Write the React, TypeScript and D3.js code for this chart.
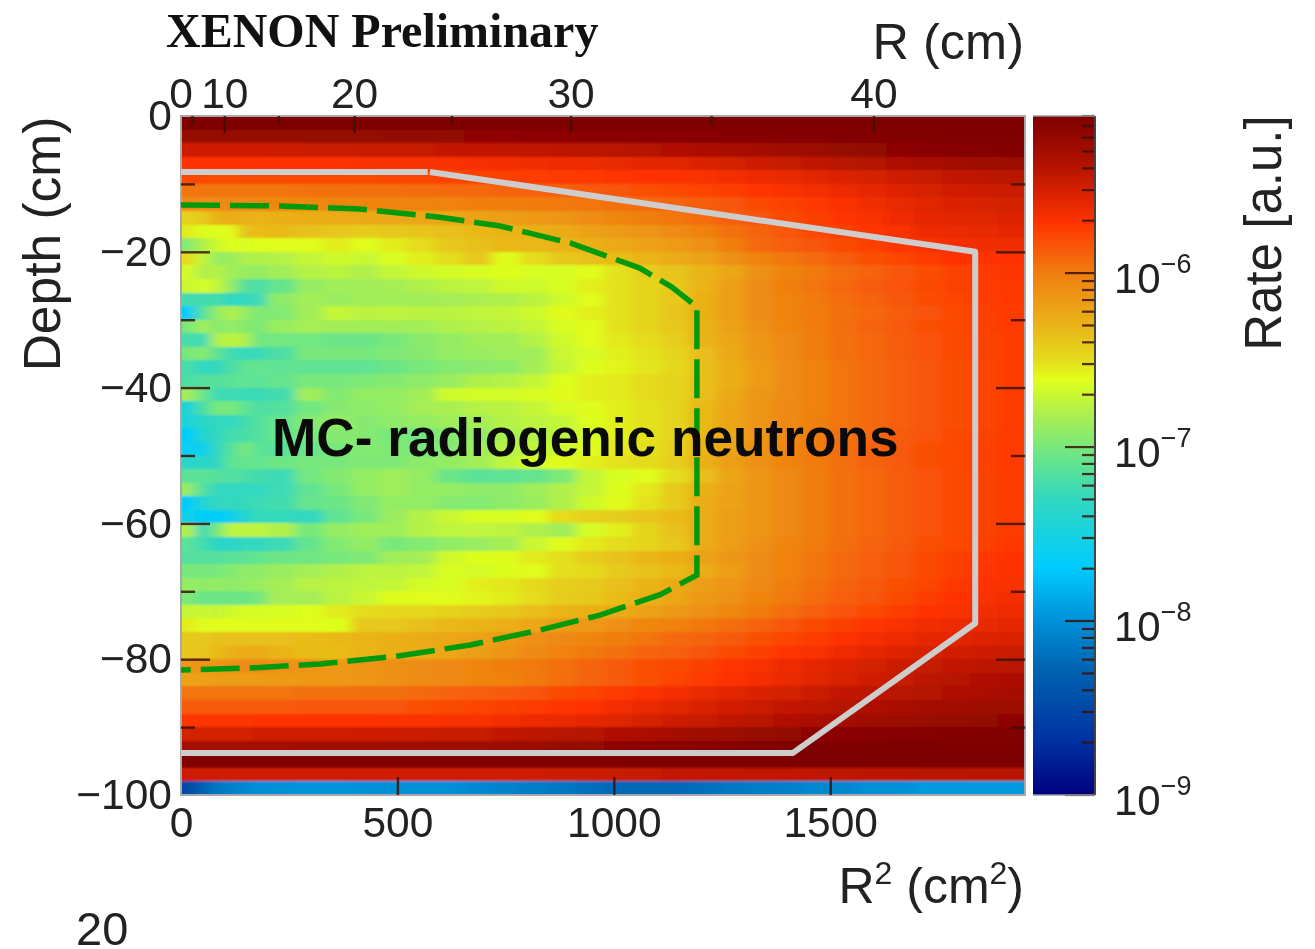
import React, { useEffect, useRef } from 'react';
import * as d3 from 'd3';

// R^2 bin edges: six narrow bins near the axis, then wide ones
const binEdges = [0, 33, 66, 99, 132, 165, 198, 263, 328, 393, 458, 523, 588, 653, 718, 783, 848, 913, 978, 1043, 1108, 1173, 1238, 1303, 1368, 1433, 1498, 1563, 1628, 1693, 1758, 1823, 1888, 1953];

// one row per 2 cm of depth, values are -log10(rate) * 100
const rateRows = [
  [510,510,510,510,510,510,510,510,510,510,510,510,510,510,510,510,510,510,510,510,510,510,509,509,509,509,509,509,508,508,508,508,508],
  [522,522,522,522,522,522,522,521,521,521,520,520,520,519,519,518,518,517,517,516,516,515,514,514,513,513,512,512,511,511,510,510,510],
  [550,550,550,550,550,550,549,548,548,547,547,546,545,545,544,543,542,541,540,538,536,534,532,530,527,525,522,520,518,516,514,513,512],
  [570,571,571,571,571,571,570,570,570,569,569,568,568,567,566,565,564,563,561,559,557,555,552,549,546,543,540,537,534,531,529,527,525],
  [580,580,581,581,580,580,580,580,579,579,578,578,577,577,576,575,574,573,572,571,570,568,566,564,561,558,555,552,549,546,544,542,540],
  [596,597,597,596,596,596,596,595,595,594,594,593,592,591,590,589,588,586,584,582,580,578,575,572,569,566,563,560,556,553,551,549,548],
  [606,607,607,606,606,605,605,605,604,604,603,603,602,601,600,599,598,597,595,592,590,587,584,580,577,573,569,565,561,557,555,553,552],
  [645,640,628,626,628,630,628,626,625,624,624,623,622,620,618,615,612,608,604,600,597,593,588,584,580,576,572,568,564,560,558,557,556],
  [655,662,662,660,636,634,633,636,640,642,640,638,636,632,630,628,625,620,616,612,607,602,595,590,585,580,576,572,568,564,562,561,560],
  [695,680,668,662,664,662,660,660,655,660,655,650,640,636,632,632,630,628,624,620,616,610,600,592,588,584,580,576,572,568,566,565,565],
  [650,672,690,688,680,680,678,672,668,670,664,656,650,640,660,650,640,636,634,630,625,620,610,602,597,592,587,582,578,574,571,570,570],
  [665,680,678,686,688,690,685,678,676,680,672,668,666,664,662,664,664,660,652,642,638,630,622,610,603,598,593,589,585,581,577,574,572],
  [670,665,672,690,715,718,708,690,685,685,684,680,676,674,668,668,664,656,652,646,640,630,618,608,601,596,591,587,583,580,577,574,573],
  [722,722,722,730,730,725,692,685,688,685,685,685,684,682,680,676,668,660,652,646,640,628,618,608,603,598,593,589,585,581,578,575,573],
  [765,715,690,680,690,698,696,685,672,676,675,676,676,674,672,668,660,656,652,646,638,628,618,608,603,599,595,591,587,583,579,576,574],
  [700,685,695,690,695,698,688,684,685,685,685,685,680,678,676,672,664,660,652,646,640,630,620,610,604,599,594,590,586,582,579,576,574],
  [720,725,680,675,680,703,702,702,705,705,700,694,690,686,686,678,668,660,654,650,643,630,622,612,606,600,595,591,587,583,580,577,575],
  [700,695,710,725,728,726,718,700,700,700,697,695,690,688,686,686,670,665,656,652,646,635,624,614,606,600,595,591,587,583,580,577,575],
  [720,730,730,718,710,708,710,710,710,710,705,700,696,694,692,684,672,662,658,653,648,636,626,616,608,602,596,592,588,584,581,578,575],
  [718,715,715,712,710,712,708,700,700,698,695,692,688,680,678,672,662,656,654,650,646,635,626,616,608,602,596,592,588,584,581,578,575],
  [685,705,725,725,726,726,722,686,696,690,690,685,668,666,666,664,660,656,654,650,646,635,624,614,607,602,596,592,588,584,581,578,575],
  [745,720,700,700,710,718,715,702,695,692,690,684,682,678,676,672,665,660,656,652,646,632,622,612,606,602,596,592,588,584,581,578,575],
  [745,735,730,730,722,715,708,696,690,695,692,690,686,684,678,675,672,662,656,652,646,632,622,612,606,601,596,592,588,584,581,578,575],
  [768,740,730,722,720,715,708,700,695,695,700,702,695,690,682,678,675,664,656,652,646,632,622,612,606,600,595,591,587,583,580,577,574],
  [762,758,730,715,700,712,713,707,700,696,697,700,695,686,678,674,668,660,654,651,645,630,620,610,604,599,594,590,586,582,579,576,574],
  [735,735,732,710,708,708,704,700,700,697,697,693,690,685,674,665,660,656,652,650,643,628,618,610,604,599,594,590,586,582,579,576,574],
  [712,712,715,716,718,722,725,702,695,690,686,690,705,712,710,708,698,672,664,660,650,635,622,612,606,600,595,591,587,583,580,577,574],
  [690,715,730,730,730,730,725,710,700,690,686,690,690,692,692,686,680,672,662,654,641,628,620,612,606,600,595,591,587,583,580,577,574],
  [768,742,730,730,728,725,722,708,705,697,690,690,695,696,692,688,680,668,660,652,641,626,620,612,606,600,595,591,587,583,580,577,574],
  [755,765,765,760,738,728,728,730,710,700,688,678,670,664,664,660,650,644,642,638,633,625,618,612,606,600,595,591,587,583,580,577,574],
  [680,725,700,675,675,675,680,700,690,686,686,678,674,674,675,680,685,665,656,646,636,625,618,612,606,600,595,591,587,583,580,577,574],
  [712,722,735,735,730,730,725,708,696,690,700,696,691,688,684,670,660,654,650,646,640,625,617,610,604,599,594,590,586,582,579,576,573],
  [715,715,715,712,712,708,705,703,700,697,686,684,668,662,660,654,651,642,637,631,626,620,614,608,602,597,592,588,584,580,576,573,571],
  [700,700,700,695,692,692,688,684,680,676,676,674,664,666,663,660,651,649,641,637,632,625,617,608,602,597,592,588,584,580,576,572,570],
  [690,692,690,692,690,688,684,677,676,674,672,666,664,656,653,649,643,641,636,630,625,618,612,606,600,595,590,586,582,578,573,570,568],
  [698,705,705,705,705,700,684,684,676,670,663,660,660,658,655,650,642,640,634,628,622,615,610,604,598,593,588,584,580,575,571,568,566],
  [672,670,672,668,665,665,664,662,655,650,648,648,645,642,640,635,630,628,625,620,615,610,605,599,593,588,583,579,575,571,568,565,564],
  [655,660,660,660,660,660,660,660,662,640,640,636,632,630,628,622,618,615,610,605,602,598,594,590,585,580,576,572,568,565,563,561,560],
  [640,640,636,636,636,636,636,634,632,630,628,625,622,620,615,610,606,604,600,596,592,590,586,582,578,574,570,566,563,560,558,556,554],
  [640,638,634,628,625,624,630,634,634,630,628,625,622,618,612,606,602,598,595,590,588,584,580,576,572,568,564,560,556,553,551,549,548],
  [612,612,612,610,608,608,610,612,615,612,610,608,606,604,600,598,595,590,586,582,580,576,572,568,564,560,556,552,548,546,544,542,540],
  [620,620,618,618,618,616,616,615,615,612,610,608,606,604,602,598,594,590,586,582,578,574,570,566,562,558,554,550,546,542,538,536,534],
  [596,596,596,596,596,596,596,595,595,594,594,592,590,588,586,584,580,578,574,570,566,562,558,555,552,548,545,542,540,537,535,533,530],
  [586,586,586,586,586,586,586,585,585,585,584,582,580,578,576,574,572,570,566,562,558,555,551,548,545,542,538,535,532,530,528,526,525],
  [572,572,572,572,572,571,571,571,571,571,570,570,569,568,566,564,562,560,557,553,550,547,543,540,536,533,530,527,525,523,521,520,518],
  [552,552,552,552,552,550,550,550,550,549,549,548,547,546,544,542,540,538,536,533,530,527,525,522,520,518,516,515,514,513,512,512,511],
  [530,530,530,530,530,530,530,529,529,529,528,528,527,526,525,524,522,520,518,516,515,514,513,512,511,510,510,510,510,510,510,510,510],
  [510,510,510,510,510,510,510,510,510,510,510,510,510,510,510,510,510,510,510,510,510,510,510,510,510,510,510,510,510,510,510,510,510],
  [550,550,550,550,550,550,550,550,550,550,550,550,550,550,549,549,548,548,547,546,545,545,545,544,544,543,543,542,542,541,541,540,540],
  [850,830,815,810,805,800,800,798,798,800,800,800,800,805,808,812,815,820,825,825,825,820,815,812,810,805,805,800,800,795,795,795,795],
];

// colour map, -log10(rate) * 100 against colour
const cmapLevels = [510, 540, 571, 600, 630, 650, 661, 680, 700, 730, 769, 800, 830, 870, 900];
const cmapColors = ['#7f0000', '#b81400', '#ff3300', '#f07e10', '#eab418', '#e4dc1e', '#e0ff1a', '#b0f04c', '#78e87c', '#30d8c0', '#00ccff', '#0090d8', '#0060b0', '#0030a0', '#000080'];

const depthTicks = d3.range(-100, 1, 10);
const depthLabels = [0, -20, -40, -60, -80, -100];
const r2Ticks = [0, 500, 1000, 1500];
const rTicks = [5, 10, 15, 20, 25, 30, 35, 40];
const rLabels = [10, 20, 30, 40];
const cbarDecades = [-9, -8, -7, -6];
const cbarMinor = [2, 3, 4, 5, 6, 7, 8, 9];

// selection contours as [R^2, depth]
const innerContour = [[0, -13.1], [229, -13.25], [414, -13.7], [598, -14.9], [737, -16.2], [899, -18.7], [1060, -22.4], [1134, -25.2], [1192, -28.1], [1192, -67.6], [1107, -70.5], [968, -73.5], [830, -75.7], [668, -77.9], [506, -79.5], [321, -80.7], [159, -81.3], [0, -81.6]];
const outerContourTop = [[0, -8.25], [570, -8.25]];
const outerContour = [[575, -8.25], [1835, -20], [1835, -74.7], [1414, -93.8], [0, -93.8]];

const margin = { left: 181, right: 1025, top: 116, bottom: 795 };
const cbarX = { left: 1033, right: 1095 };
const labelFont = '"Liberation Sans", Arial, sans-serif';
const tickColor = '#3a1208';
const tickFontSize = 42.5;

const App = () => {
  const svgRef = useRef<SVGSVGElement>(null);

  useEffect(() => {
    const svg = d3.select(svgRef.current);
    svg.selectAll('*').remove();

    const x = d3.scaleLinear().domain([0, 1950]).range([margin.left, margin.right]);
    const y = d3.scaleLinear().domain([0, -100]).range([margin.top, margin.bottom]);
    const color = d3.scaleLinear<string>().domain(cmapLevels).range(cmapColors).interpolate(d3.interpolateRgb).clamp(true);
    const cbarY = d3.scaleLog().domain([1e-9, 8e-6]).range([margin.bottom, margin.top]);

    const defs = svg.append('defs');
    const blur = defs.append('filter').attr('id', 'soft').attr('x', '-5%').attr('y', '-5%').attr('width', '110%').attr('height', '110%');
    blur.append('feGaussianBlur').attr('stdDeviation', '6 0.8');
    defs.append('clipPath').attr('id', 'plot').append('rect')
      .attr('x', margin.left).attr('y', margin.top)
      .attr('width', margin.right - margin.left).attr('height', margin.bottom - margin.top);

    // heat map, outer cells run past the frame so the blur does not fade at the edge
    const bleed = 20;
    const cells = svg.append('g').attr('clip-path', 'url(#plot)').append('g').attr('filter', 'url(#soft)').attr('shape-rendering', 'crispEdges');
    rateRows.forEach((row, i) => {
      const y0 = y(-2 * i) - (i === 0 ? bleed : 0);
      const y1 = y(-2 * (i + 1)) + (i === rateRows.length - 1 ? bleed : 0);
      row.forEach((v, j) => {
        const x0 = x(binEdges[j]) - (j === 0 ? bleed : 0);
        const x1 = x(binEdges[j + 1]) + (j === row.length - 1 ? bleed : 0);
        cells.append('rect')
          .attr('x', x0).attr('y', y0)
          .attr('width', x1 - x0 + 0.5).attr('height', y1 - y0 + 0.5)
          .attr('fill', color(v));
      });
    });

    // frame
    svg.append('rect')
      .attr('x', margin.left).attr('y', margin.top)
      .attr('width', margin.right - margin.left).attr('height', margin.bottom - margin.top)
      .attr('fill', 'none').attr('stroke', '#a8a8a8').attr('stroke-width', 2);

    // contours
    const line = d3.line().x(d => x(d[0])).y(d => y(d[1]));
    [outerContourTop, outerContour].forEach(pts => {
      svg.append('path').attr('d', line(pts)).attr('fill', 'none')
        .attr('stroke', '#cdcdcd').attr('stroke-width', 6).attr('stroke-linejoin', 'round');
    });
    svg.append('path').attr('d', line(innerContour)).attr('fill', 'none')
      .attr('stroke', '#009a0c').attr('stroke-width', 5.5).attr('stroke-dasharray', '39 10');

    const styleAxis = (g, size) => {
      g.select('.domain').remove();
      g.selectAll('line').attr('stroke', tickColor).attr('stroke-width', 2.4).attr('stroke-opacity', 0.85);
      g.selectAll('text').attr('font-family', labelFont).attr('font-size', size).attr('fill', '#222');
    };

    // bottom axis
    const bottom = svg.append('g').attr('transform', `translate(0,${margin.bottom})`)
      .call(d3.axisBottom(x).tickValues(r2Ticks).tickSizeInner(-18).tickSizeOuter(0).tickPadding(12).tickFormat(d3.format('d')));
    styleAxis(bottom, tickFontSize);
    bottom.selectAll('.tick').filter(d => d === 0).select('line').remove();

    // top axis in R, placed on the R^2 scale
    const top = svg.append('g').attr('transform', `translate(0,${margin.top})`)
      .call(d3.axisTop(x)
        .tickValues(rTicks.map(r => r * r)).tickSizeInner(-17).tickSizeOuter(0).tickPadding(8)
        .tickFormat(d => (rLabels.includes(Math.sqrt(d)) ? String(Math.sqrt(d)) : '')));
    styleAxis(top, tickFontSize);
    top.selectAll('.tick').filter(d => !rLabels.includes(Math.sqrt(d))).select('line').attr('y2', 9);
    svg.append('text').attr('x', x(0)).attr('y', 108).attr('text-anchor', 'middle')
      .attr('font-family', labelFont).attr('font-size', tickFontSize).attr('fill', '#222').text('0');

    // left axis
    const left = svg.append('g').attr('transform', `translate(${margin.left},0)`)
      .call(d3.axisLeft(y).tickValues(depthTicks).tickSizeInner(-29).tickSizeOuter(0).tickPadding(9)
        .tickFormat(d => (depthLabels.includes(d) ? d3.format('d')(d) : '')));
    styleAxis(left, tickFontSize);
    left.selectAll('.tick').filter(d => !depthLabels.includes(d)).select('line').attr('x2', 14);
    left.selectAll('.tick').filter(d => d === 0 || d === -100).select('line').remove();

    // right axis ticks, same spacing as the left one
    const right = svg.append('g').attr('transform', `translate(${margin.right},0)`)
      .call(d3.axisRight(y).tickValues(depthTicks.filter(d => d !== 0 && d !== -100)).tickSizeInner(-29).tickSizeOuter(0).tickFormat(() => ''));
    styleAxis(right, tickFontSize);
    right.selectAll('.tick').filter(d => !depthLabels.includes(d)).select('line').attr('x2', -14);

    // colour bar
    const grad = defs.append('linearGradient').attr('id', 'cbar').attr('x1', 0).attr('x2', 0).attr('y1', 1).attr('y2', 0);
    cmapLevels.slice().reverse().forEach(lvl => {
      const rate = Math.pow(10, -lvl / 100);
      grad.append('stop')
        .attr('offset', (margin.bottom - cbarY(Math.min(rate, 8e-6))) / (margin.bottom - margin.top))
        .attr('stop-color', color(lvl));
    });
    svg.append('rect')
      .attr('x', cbarX.left).attr('y', margin.top)
      .attr('width', cbarX.right - cbarX.left).attr('height', margin.bottom - margin.top)
      .attr('fill', 'url(#cbar)');

    const minorRates = cbarDecades.flatMap(e => cbarMinor.map(m => m * Math.pow(10, e))).filter(v => v <= 8e-6);
    const cbarG = svg.append('g').attr('transform', `translate(${cbarX.right},0)`);
    cbarG.selectAll('line.minor').data(minorRates).enter().append('line').attr('class', 'minor')
      .attr('x1', -13).attr('x2', 0).attr('y1', d => cbarY(d)).attr('y2', d => cbarY(d))
      .attr('stroke', tickColor).attr('stroke-width', 2.2).attr('stroke-opacity', 0.85);
    cbarG.selectAll('line.major').data(cbarDecades.map(e => Math.pow(10, e))).enter().append('line').attr('class', 'major')
      .attr('x1', -30).attr('x2', 0).attr('y1', d => cbarY(d)).attr('y2', d => cbarY(d))
      .attr('stroke', tickColor).attr('stroke-width', 2.2).attr('stroke-opacity', 0.85);
    svg.append('line').attr('x1', cbarX.right).attr('x2', cbarX.right).attr('y1', margin.top).attr('y2', margin.bottom)
      .attr('stroke', '#444').attr('stroke-width', 2);
    svg.append('line').attr('x1', cbarX.left).attr('x2', cbarX.right).attr('y1', margin.top).attr('y2', margin.top)
      .attr('stroke', '#999').attr('stroke-width', 1.5);
    svg.append('line').attr('x1', cbarX.left).attr('x2', cbarX.right).attr('y1', margin.bottom).attr('y2', margin.bottom)
      .attr('stroke', '#999').attr('stroke-width', 1.5);

    // colour bar labels
    cbarDecades.forEach(e => {
      const t = svg.append('text').attr('font-family', labelFont).attr('fill', '#222')
        .attr('x', 1114).attr('y', cbarY(Math.pow(10, e)) + 20).attr('font-size', 42);
      t.append('tspan').text('10');
      t.append('tspan').attr('dy', -20).attr('font-size', 27).text('\u2212' + Math.abs(e));
    });

    // titles
    const addText = (txt, xp, yp, size, opts: any = {}) => svg.append('text')
      .attr('x', xp).attr('y', yp)
      .attr('font-family', opts.family || labelFont)
      .attr('font-size', size)
      .attr('font-weight', opts.weight || 'normal')
      .attr('text-anchor', opts.anchor || 'start')
      .attr('fill', opts.fill || '#222')
      .attr('transform', opts.rotate ? `rotate(-90 ${xp} ${yp})` : null)
      .text(txt);

    addText('XENON Preliminary', 166, 47, 48, { family: '"Liberation Serif", serif', weight: 'bold', fill: '#111' });
    addText('R (cm)', 1024, 59, 50.5, { anchor: 'end' });
    addText('Depth (cm)', 60, 244, 51.5, { anchor: 'middle', rotate: true });
    addText('Rate [a.u.]', 1281, 233, 51, { anchor: 'middle', rotate: true });
    addText('MC- radiogenic neutrons', 272, 456, 53.2, { weight: 'bold', fill: '#0a0a0a' });
    addText('20', 76, 945, 47);

    const r2 = svg.append('text').attr('x', 1024).attr('y', 903).attr('text-anchor', 'end')
      .attr('font-family', labelFont).attr('font-size', 50).attr('fill', '#222');
    r2.append('tspan').text('R');
    r2.append('tspan').attr('dy', -19).attr('font-size', 32).text('2');
    r2.append('tspan').attr('dy', 19).text(' (cm');
    r2.append('tspan').attr('dy', -19).attr('font-size', 32).text('2');
    r2.append('tspan').attr('dy', 19).text(')');
  }, []);

  return (
    <svg ref={svgRef} width={1315} height={949} style={{ position: 'absolute', left: 0, top: 0, background: 'white', filter: 'blur(0.6px)' }}></svg>
  );
};

export default App;
